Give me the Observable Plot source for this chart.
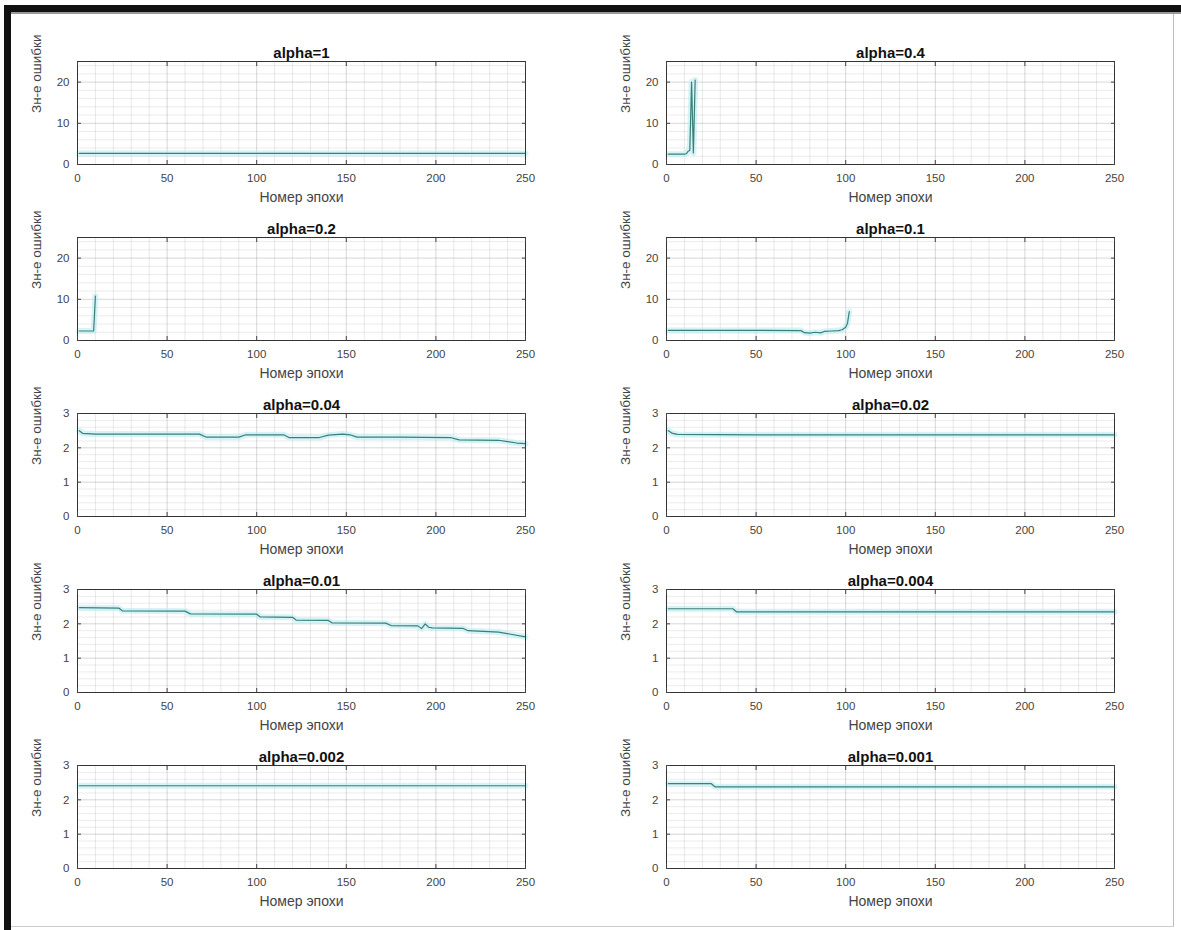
<!DOCTYPE html>
<html><head><meta charset="utf-8">
<script src="https://cdn.jsdelivr.net/npm/d3@7"></script>
<script src="https://cdn.jsdelivr.net/npm/@observablehq/plot@0.6"></script>
<style>
html,body{margin:0;padding:0;background:#fff;}
#fig{position:relative;width:1181px;height:930px;overflow:hidden;background:#fff;font-family:"Liberation Sans",Arial,sans-serif;}
.panel{position:absolute;}
.bar{position:absolute;}
</style></head><body><div id="fig"></div>
<script>
// ---- data ----
const titles = ["alpha=1","alpha=0.4","alpha=0.2","alpha=0.1","alpha=0.04","alpha=0.02","alpha=0.01","alpha=0.004","alpha=0.002","alpha=0.001"];
const xLabel = "Номер эпохи";
const yLabel = "Зн-е ошибки";
const xTicks = [0,50,100,150,200,250];
const xMinor = [10,20,30,40,60,70,80,90,110,120,130,140,160,170,180,190,210,220,230,240];
const yTicksBig = [0,10,20];
const yMinorBig = [2,4,6,8,12,14,16,18,22,24];
const yTicksSmall = [0,1,2,3];
const yMinorSmall = [0.2,0.4,0.6,0.8,1.2,1.4,1.6,1.8,2.2,2.4,2.6,2.8];
const yMaxes = [25,25,25,25,3,3,3,3,3,3];

const ep_a1 = [1,50,100,150,200,250];
const err_a1 = [2.7,2.7,2.7,2.7,2.7,2.7];
const ep_a04 = [1,5,10,11,12,13,14,15,16];
const err_a04 = [2.5,2.5,2.5,2.6,3.2,3.4,20.0,2.8,20.5];
const ep_a02 = [1,5,9,10];
const err_a02 = [2.3,2.3,2.3,10.8];
const ep_a01 = [1,25,50,75,77,80,83,86,88,92,96,98,100,101,102];
const err_a01 = [2.45,2.45,2.45,2.4,1.9,1.8,2.0,1.85,2.2,2.3,2.4,2.6,3.2,4.2,7.0];
const ep_a004 = [1,3,10,40,68,72,90,94,115,118,135,140,148,152,156,180,208,213,235,240,245,250];
const err_a004 = [2.5,2.42,2.4,2.4,2.4,2.31,2.31,2.38,2.38,2.3,2.3,2.37,2.4,2.38,2.31,2.31,2.3,2.23,2.22,2.18,2.14,2.12];
const ep_a002 = [1,3,6,50,100,150,200,250];
const err_a002 = [2.5,2.43,2.39,2.38,2.38,2.38,2.38,2.38];
const ep_a001 = [1,23,25,60,63,100,102,120,122,140,142,172,175,190,192,194,196,198,215,218,235,250];
const err_a001 = [2.47,2.46,2.38,2.37,2.29,2.28,2.2,2.19,2.11,2.1,2.03,2.02,1.95,1.94,1.86,2.0,1.9,1.88,1.87,1.8,1.76,1.62];
const ep_a0004 = [1,20,37,39,100,150,200,250];
const err_a0004 = [2.44,2.44,2.44,2.35,2.35,2.35,2.35,2.35];
const ep_a0002 = [1,50,100,150,200,250];
const err_a0002 = [2.41,2.41,2.41,2.41,2.41,2.41];
const ep_a0001 = [1,25,27,100,150,200,250];
const err_a0001 = [2.47,2.47,2.38,2.38,2.38,2.38,2.38];

const epochs = [ep_a1,ep_a04,ep_a02,ep_a01,ep_a004,ep_a002,ep_a001,ep_a0004,ep_a0002,ep_a0001];
const errors = [err_a1,err_a04,err_a02,err_a01,err_a004,err_a002,err_a001,err_a0004,err_a0002,err_a0001];

// ---- layout ----
const frameX = [77, 666];
const frameY = [61, 237, 413, 589, 765];
const W = 448, H = 103;
const ML = 60, MR = 20, MT = 28, MB = 52;
const FONT = "'Liberation Sans', Arial, sans-serif";

const fig = document.getElementById("fig");

function bar(l,t,w,h,c){const d=document.createElement("div");d.className="bar";Object.assign(d.style,{left:l+"px",top:t+"px",width:w+"px",height:h+"px",background:c});fig.appendChild(d);}
bar(4,5,1177,7,"#111");
bar(11,12,1170,2,"#999");
bar(4,5,7,925,"#111");
bar(1173,14,1,913,"#bbb");
bar(11,926,1163,1,"#ccc");

for (let i = 0; i < 10; i++) {
  const col = i % 2, row = Math.floor(i / 2);
  const big = yMaxes[i] > 5;
  const yT = big ? yTicksBig : yTicksSmall;
  const yM = big ? yMinorBig : yMinorSmall;
  const data = epochs[i].map((x, j) => ({x, y: errors[i][j]}));
  const p = Plot.plot({
    width: W + ML + MR, height: H + MT + MB,
    marginLeft: ML, marginRight: MR, marginTop: MT, marginBottom: MB,
    style: {background: "transparent", overflow: "visible", fontFamily: FONT, fontSize: "11.5px", color: "#444"},
    x: {domain: [0, 250]},
    y: {domain: [0, yMaxes[i]]},
    marks: [
      Plot.gridX(xMinor, {stroke: "#000", strokeOpacity: 0.09}),
      Plot.gridY(yM, {stroke: "#000", strokeOpacity: 0.08}),
      Plot.gridX(xTicks, {stroke: "#000", strokeOpacity: 0.16}),
      Plot.gridY(yT, {stroke: "#000", strokeOpacity: 0.16}),
      Plot.line(data, {x: "x", y: "y", stroke: "#b8ecf2", strokeWidth: 6, strokeOpacity: 0.6}),
      Plot.line(data, {x: "x", y: "y", stroke: "#3c7e78", strokeWidth: 1.2}),
      Plot.frame({stroke: "#333"}),
      Plot.axisX({ticks: xTicks, anchor: "bottom", tickSize: -4, tickPadding: 13, label: null, tickFormat: d => String(d)}),
      Plot.axisX({ticks: xTicks, anchor: "top", tickSize: -4, label: null, tickFormat: () => ""}),
      Plot.axisY({ticks: yT, anchor: "left", tickSize: -4, tickPadding: 12, label: null, tickFormat: d => String(d)}),
      Plot.axisY({ticks: yT, anchor: "right", tickSize: -4, label: null, tickFormat: () => ""}),
      Plot.text([titles[i]], {text: d => d, frameAnchor: "top", dy: -14, fontWeight: "bold", fontSize: 15, fill: "#111"}),
      Plot.text([xLabel], {text: d => d, frameAnchor: "bottom", dy: 37, fontSize: 14, fill: "#444"}),
      Plot.text([yLabel], {text: d => d, frameAnchor: "left", dx: -41, rotate: -90, fontSize: 13.5, fill: "#444"})
    ]
  });
  const wrap = document.createElement("div");
  wrap.className = "panel";
  wrap.style.left = (frameX[col] - ML) + "px";
  wrap.style.top = (frameY[row] - MT) + "px";
  wrap.appendChild(p);
  fig.appendChild(wrap);
}
</script>
</body></html>
